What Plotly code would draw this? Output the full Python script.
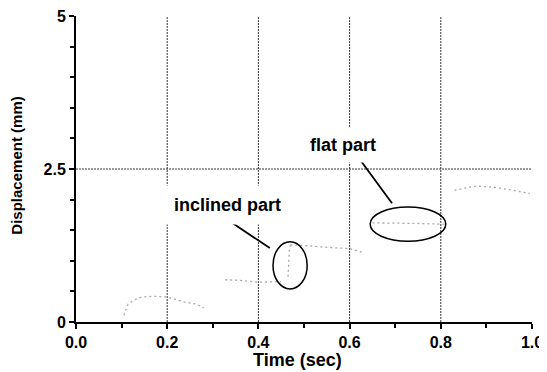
import plotly.graph_objects as go

# Displacement trace (segments separated by None)
time_s = [0.105, 0.114, 0.13, 0.145, 0.17, 0.2, 0.235, 0.265, 0.28, None,
          0.327, 0.36, 0.4, 0.43, 0.45, None,
          0.465, 0.466, 0.467, 0.468, 0.47, None,
          0.47, 0.5, 0.55, 0.6, 0.627, None,
          0.65, 0.7, 0.75, 0.8, 0.81, None,
          0.83, 0.86, 0.88, 0.92, 0.96, 0.995]
disp_mm = [0.11, 0.29, 0.37, 0.41, 0.42, 0.41, 0.33, 0.29, 0.23, None,
           0.69, 0.68, 0.65, 0.66, 0.66, None,
           0.74, 0.9, 1.05, 1.18, 1.26, None,
           1.26, 1.25, 1.22, 1.2, 1.14, None,
           1.62, 1.62, 1.61, 1.6, 1.6, None,
           2.15, 2.2, 2.22, 2.2, 2.15, 2.1]

x_grid = [0.2, 0.4, 0.6, 0.8]
y_grid = [2.5]
x_ticks = [0.0, 0.2, 0.4, 0.6, 0.8, 1.0]
x_ticklabels = ["0.0", "0.2", "0.4", "0.6", "0.8", "1.0"]
y_ticks = [0, 2.5, 5]
y_ticklabels = ["0", "2.5", "5"]

FONT = "Liberation Sans, Arial, sans-serif"

fig = go.Figure()
fig.add_trace(go.Scatter(x=time_s, y=disp_mm, mode="lines",
                         line=dict(color="#a8a8a8", width=1.3, dash="2px,3px"),
                         connectgaps=False, showlegend=False))

grid_line = dict(color="#333", width=1, dash="2px,1px")
shapes = []
for gx in x_grid:
    shapes.append(dict(type="line", xref="x", yref="y", x0=gx, x1=gx, y0=0, y1=5,
                       line=grid_line, layer="below"))
for gy in y_grid:
    shapes.append(dict(type="line", xref="x", yref="y", x0=0, x1=1.012, y0=gy, y1=gy,
                       line=grid_line, layer="below"))
# ellipses
shapes.append(dict(type="circle", xref="x", yref="y", x0=0.432, x1=0.507, y0=0.54, y1=1.31,
                   line=dict(color="black", width=1.5)))
shapes.append(dict(type="circle", xref="x", yref="y", x0=0.645, x1=0.811, y0=1.32, y1=1.88,
                   line=dict(color="black", width=1.5)))
# pointer lines
shapes.append(dict(type="line", xref="x", yref="y", x0=0.342, y0=1.62, x1=0.425, y1=1.21,
                   line=dict(color="black", width=1.8)))
shapes.append(dict(type="line", xref="x", yref="y", x0=0.623, y0=2.65, x1=0.693, y1=1.94,
                   line=dict(color="black", width=1.8)))

annotations = [
    dict(x=0.333, y=1.91, xref="x", yref="y", text="inclined part", showarrow=False,
         font=dict(family=FONT, size=18, color="black", weight="bold"),
         bgcolor="white", borderpad=9),
    dict(x=0.585, y=2.89, xref="x", yref="y", text="flat part", showarrow=False,
         font=dict(family=FONT, size=18, color="black", weight="bold"),
         bgcolor="white", borderpad=7),
    dict(x=0.485, y=-0.125, xref="x", yref="paper", yanchor="middle", text="Time (sec)",
         showarrow=False, font=dict(family=FONT, size=18, color="black", weight="bold")),
    dict(x=-0.13, y=0.51, xref="paper", yref="paper", xanchor="center", yanchor="middle",
         text="Displacement (mm)", textangle=-90, showarrow=False,
         font=dict(family=FONT, size=15, color="black", weight="bold")),
]

fig.update_layout(
    width=539, height=364,
    margin=dict(l=68, r=15, t=8, b=50),
    paper_bgcolor="white", plot_bgcolor="white",
    shapes=shapes, annotations=annotations,
    font=dict(family=FONT, color="black"),
    xaxis=dict(range=[0, 1.0], tickvals=x_ticks, ticktext=x_ticklabels, automargin=False,
               ticklabeloverflow="allow",
               showgrid=False, zeroline=False, showline=True, linecolor="black", linewidth=2,
               ticks="outside", ticklen=5, tickwidth=2, tickcolor="black",
               minor=dict(dtick=0.1, ticks="outside", ticklen=4, tickwidth=2, tickcolor="black"),
               tickfont=dict(family=FONT, size=16, weight="bold")),
    yaxis=dict(range=[0, 5], tickvals=y_ticks, ticktext=y_ticklabels, automargin=False,
               ticklabeloverflow="allow",
               showgrid=False, zeroline=False, showline=True, linecolor="black", linewidth=2,
               ticks="outside", ticklen=5, tickwidth=2, tickcolor="black",
               minor=dict(dtick=0.5, ticks="outside", ticklen=4, tickwidth=2, tickcolor="black"),
               tickfont=dict(family=FONT, size=16, weight="bold")),
)

fig.write_html("out.html")
